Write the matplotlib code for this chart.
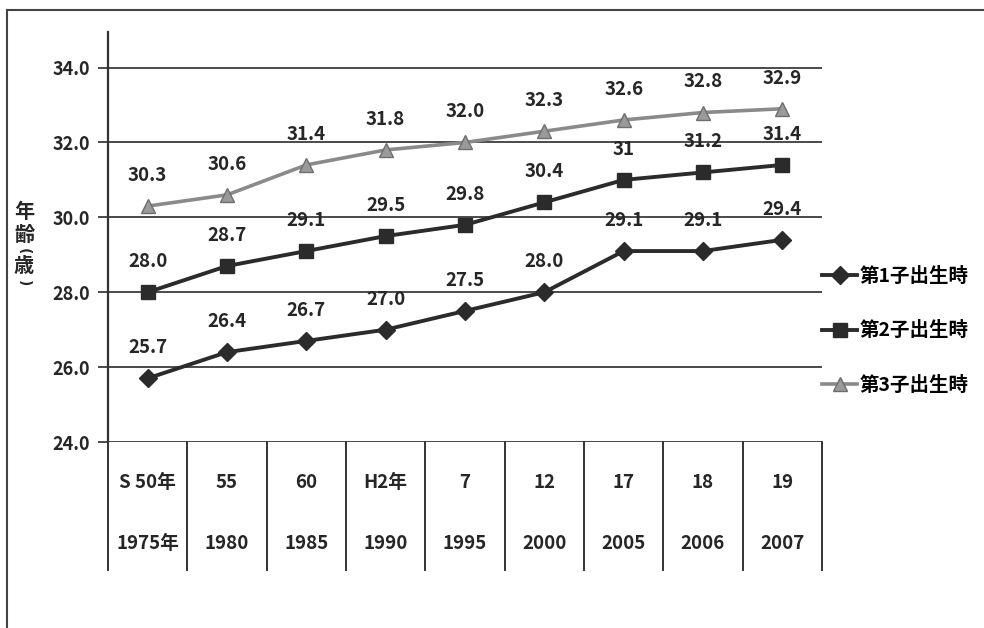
import matplotlib
matplotlib.use('Agg')
import matplotlib.pyplot as plt
from matplotlib.lines import Line2D
import numpy as np

plt.rcParams['font.family'] = ['Noto Sans CJK JP', 'DejaVu Sans']

# data
era_labels = ['S 50年', '55', '60', 'H2年', '7', '12', '17', '18', '19']
year_labels = ['1975年', '1980', '1985', '1990', '1995', '2000', '2005', '2006', '2007']
first_child = [25.7, 26.4, 26.7, 27.0, 27.5, 28.0, 29.1, 29.1, 29.4]
second_child = [28.0, 28.7, 29.1, 29.5, 29.8, 30.4, 31.0, 31.2, 31.4]
third_child = [30.3, 30.6, 31.4, 31.8, 32.0, 32.3, 32.6, 32.8, 32.9]
first_labels = ['25.7', '26.4', '26.7', '27.0', '27.5', '28.0', '29.1', '29.1', '29.4']
second_labels = ['28.0', '28.7', '29.1', '29.5', '29.8', '30.4', '31', '31.2', '31.4']
third_labels = ['30.3', '30.6', '31.4', '31.8', '32.0', '32.3', '32.6', '32.8', '32.9']
series_names = ['第1子出生時', '第2子出生時', '第3子出生時']
y_ticks = [24.0, 26.0, 28.0, 30.0, 32.0, 34.0]

DARK = '#2b2b2b'
GRAY = '#8a8a8a'
TXT = '#262626'

fig = plt.figure(figsize=(9.84, 6.28), dpi=100)
ax = fig.add_axes([108/984, 1-442/628, 714/984, 410/628])

x = np.arange(len(era_labels))

for yv in y_ticks:
    ax.axhline(yv, color='#4a4a4a', lw=1.4, zorder=1)

l1, = ax.plot(x, first_child, color=DARK, lw=2.8, marker='D', ms=9, mfc=DARK, mec=DARK, zorder=4)
l2, = ax.plot(x, second_child, color=DARK, lw=2.8, marker='s', ms=10, mfc=DARK, mec=DARK, zorder=4)
l3, = ax.plot(x, third_child, color=GRAY, lw=2.6, marker='^', ms=10, mfc='#9a9a9a', mec='#6e6e6e', zorder=3)

for vals, labs in [(first_child, first_labels), (second_child, second_labels), (third_child, third_labels)]:
    for xi, v, s in zip(x, vals, labs):
        ax.annotate(s, (xi, v), xytext=(0, 22), textcoords='offset points',
                    ha='center', va='center', fontsize=13.5, fontweight='bold', color=TXT)

ax.set_xlim(-0.5, len(era_labels) - 0.5)
ax.set_ylim(24, 34.95)
ax.set_yticks(y_ticks)
ax.set_yticklabels([f'{v:.1f}' for v in y_ticks], fontsize=13, fontweight='bold', color=TXT)
ax.tick_params(axis='y', length=7, width=1.4, color='#4a4a4a', pad=6)
ax.set_xticks([])
for side in ['top', 'right', 'bottom']:
    ax.spines[side].set_visible(False)
ax.spines['left'].set_color('#333333')
ax.spines['left'].set_linewidth(1.6)

# category table below the axis
trans = ax.get_xaxis_transform()
for b in np.arange(len(era_labels) + 1) - 0.5:
    ax.plot([b, b], [0, -0.312], transform=trans, color='#333333', lw=1.4, clip_on=False)
for xi, e, yl in zip(x, era_labels, year_labels):
    ax.text(xi, -0.098, e, transform=trans, ha='center', va='center', fontsize=13.5,
            fontweight='bold', color=TXT)
    ax.text(xi, -0.247, yl, transform=trans, ha='center', va='center', fontsize=13.5,
            fontweight='bold', color=TXT)

# y axis title, written vertically one glyph at a time (brackets turned sideways)
for ch, ypx, fs, rot in [('年', 211, 14.5, 0), ('齢', 234, 14.5, 0), ('(', 251, 10, -90),
                         ('歳', 266, 14.5, 0), (')', 283, 10, -90)]:
    fig.text(24/984, 1-ypx/628, ch, ha='center', va='center', fontsize=fs,
             fontweight='bold', color=TXT, rotation=rot, family='DejaVu Sans' if rot else None)

# legend
fig.legend([l1, l2, l3], series_names, loc='upper left', bbox_to_anchor=(822/984, 1-267/628),
           frameon=False, handlelength=1.8, handletextpad=0.15, labelspacing=1.82,
           borderpad=0, borderaxespad=0, prop={'weight': 'bold', 'size': 14})

# outer frame of the page
fig.add_artist(Line2D([7/984, 7/984], [0, 1-10/628], color='#444444', lw=1.5))
fig.add_artist(Line2D([7/984, 1], [1-10/628, 1-10/628], color='#444444', lw=1.5))

fig.savefig('out.png', dpi=100)
